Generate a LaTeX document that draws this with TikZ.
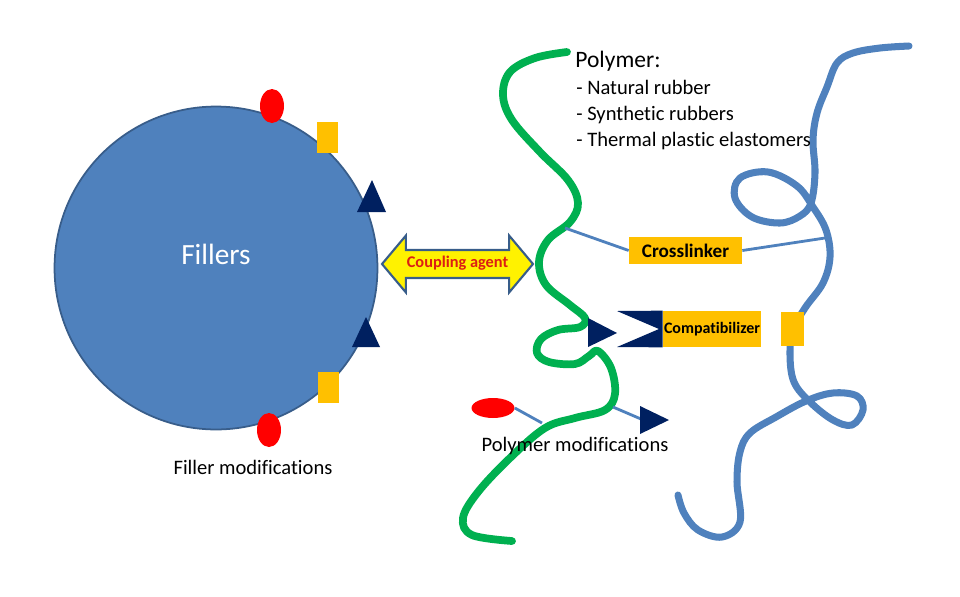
\documentclass[tikz,border=0pt]{standalone}
\usepackage{fontspec}
\setmainfont{Carlito}[Ligatures=CommonOff]
\usepackage{tikz}
\usetikzlibrary{positioning,shapes.geometric,shapes.arrows}
\definecolor{filler}{RGB}{79,129,189}
\definecolor{fillerrim}{RGB}{56,93,138}
\definecolor{chain}{RGB}{79,129,189}
\definecolor{rubber}{RGB}{0,176,80}
\definecolor{gold}{RGB}{255,192,0}
\definecolor{navy}{RGB}{0,32,96}
\definecolor{agent}{RGB}{220,30,20}

\begin{document}
\begin{tikzpicture}[
    x=0.02cm,y=-0.02cm,
    strand/.style={line width=4.4pt,line cap=round,line join=round},
    link/.style={line width=1.6pt,color=chain},
    tag/.style={fill=gold,inner sep=0pt},
    dot/.style={ellipse,fill=red,inner sep=0pt},
    txt/.style={font=\fontsize{11.7}{14}\selectfont,inner sep=0pt}
  ]
    \useasboundingbox (0,0) rectangle (960,596);

    % polymer chains
    \draw[strand,rubber] plot[smooth,tension=0.6] coordinates {
      (567,52) (535,58) (510,72) (503,95) (512,120) (540,152) (568,180)
      (578,203) (570,222) (548,240) (539,262) (546,285) (570,305) (585,318)
      (580,327) (558,330) (541,339) (537,353) (549,362) (575,364) (589,356)
      (598,351) (611,368) (615,394) (605,410) (575,418) (545,428) (510,458)
      (478,492) (463,518) (472,535) (512,541)};
    \draw[strand,chain,line width=4pt] plot[smooth,tension=0.6] coordinates {
      (909,46) (880,48) (853,53) (837,63) (827,87) (817,113) (813,140)
      (815,173) (811,203) (800,216) (780,223) (752,217) (735,198) (740,178)
      (768,172) (797,186) (813,207) (826,230) (830,257) (823,283) (805,308)
      (793,330) (790,355) (794,382) (810,402) (833,420) (852,425) (863,410)
      (857,396) (833,393) (806,401) (776,417) (750,433) (740,452) (737,482)
      (740,522) (722,537) (698,530) (684,513) (678,495)};
    \coordinate (gtop) at (565,228);
    \coordinate (btop) at (825,238);
    \coordinate (gmodL) at (542,423);
    \coordinate (gmodR) at (613,407);

    % filler particle
    \node[circle,fill=filler,draw=fillerrim,line width=1pt,minimum size=6.46cm,inner sep=0pt] (filler) at (216,268) {};
    \node[text=white,font=\fontsize{16.7}{20}\selectfont] (fillerlbl) at (216,254) {Fillers};
    \node[dot,minimum width=0.48cm,minimum height=0.68cm] (redtop) at (272,106) {};
    \node[dot,minimum width=0.48cm,minimum height=0.68cm] (redbot) at (269,430) {};
    \node[tag,minimum width=0.42cm,minimum height=0.62cm] (goldtop) at (327.5,137.5) {};
    \node[tag,minimum width=0.42cm,minimum height=0.62cm] (goldbot) at (328.5,387.5) {};
    \fill[navy] (372,180) -- (386,212) -- (357,212) -- cycle;
    \fill[navy] (366,317) -- (380,347) -- (352,347) -- cycle;
    \node[txt] (fillermod) at (253,467) {Filler modifications};

    % coupling agent
    \node[double arrow,fill=yellow,draw=fillerrim,line width=1.2pt,
      double arrow head extend=0.29cm,double arrow tip angle=100,
      minimum height=3.02cm,inner xsep=0pt,inner ysep=3.1pt,
      text height=6.5pt,text depth=2pt,
      font=\fontsize{9.3}{11}\selectfont\bfseries,text=agent] (coupling) at (457.5,264) {Coupling agent};

    % crosslinker
    \node[tag,minimum width=2.26cm,minimum height=0.54cm,font=\fontsize{10.9}{13}\selectfont\bfseries] (xlinker) at (685.5,250.5) {Crosslinker};
    \draw[link] (gtop) -- (xlinker.west);
    \draw[link] (xlinker.east) -- (btop);

    % compatibilizer
    \node[tag,minimum width=1.96cm,minimum height=0.72cm,font=\fontsize{9.1}{11}\selectfont\bfseries] (compat) at (712,329) {Compatibilizer};
    \fill[navy] (617,311) -- (compat.north west) -- (compat.south west) -- (617,347) -- (659,329) -- cycle;
    \fill[navy] (588,318) -- (588,347) -- (617,333) -- cycle;
    \node[tag,minimum width=0.46cm,minimum height=0.68cm] (goldright) at (792.5,329) {};

    % polymer modifications
    \node[dot,minimum width=0.86cm,minimum height=0.4cm] (redmod) at (493,408) {};
    \coordinate (navymod) at (641,419);
    \draw[link] (redmod.east) -- (gmodL);
    \draw[link] (gmodR) -- (navymod);
    \fill[navy] (640,406) -- (669,420) -- (640,434) -- cycle;
    \node[txt] (polymod) at (575,446) {Polymer modifications};

    % polymer types
    \node[anchor=base west,inner sep=0pt,font=\fontsize{13.4}{16}\selectfont] (polytitle) at (575,67) {Polymer:};
    \node[txt,anchor=base west] (rubber1) at (576,94) {- Natural rubber};
    \node[txt,anchor=base west] (rubber2) at (576,120.5) {- Synthetic rubbers};
    \node[txt,anchor=base west] (rubber3) at (576,146.5) {- Thermal plastic elastomers};
  \end{tikzpicture}
\end{document}
